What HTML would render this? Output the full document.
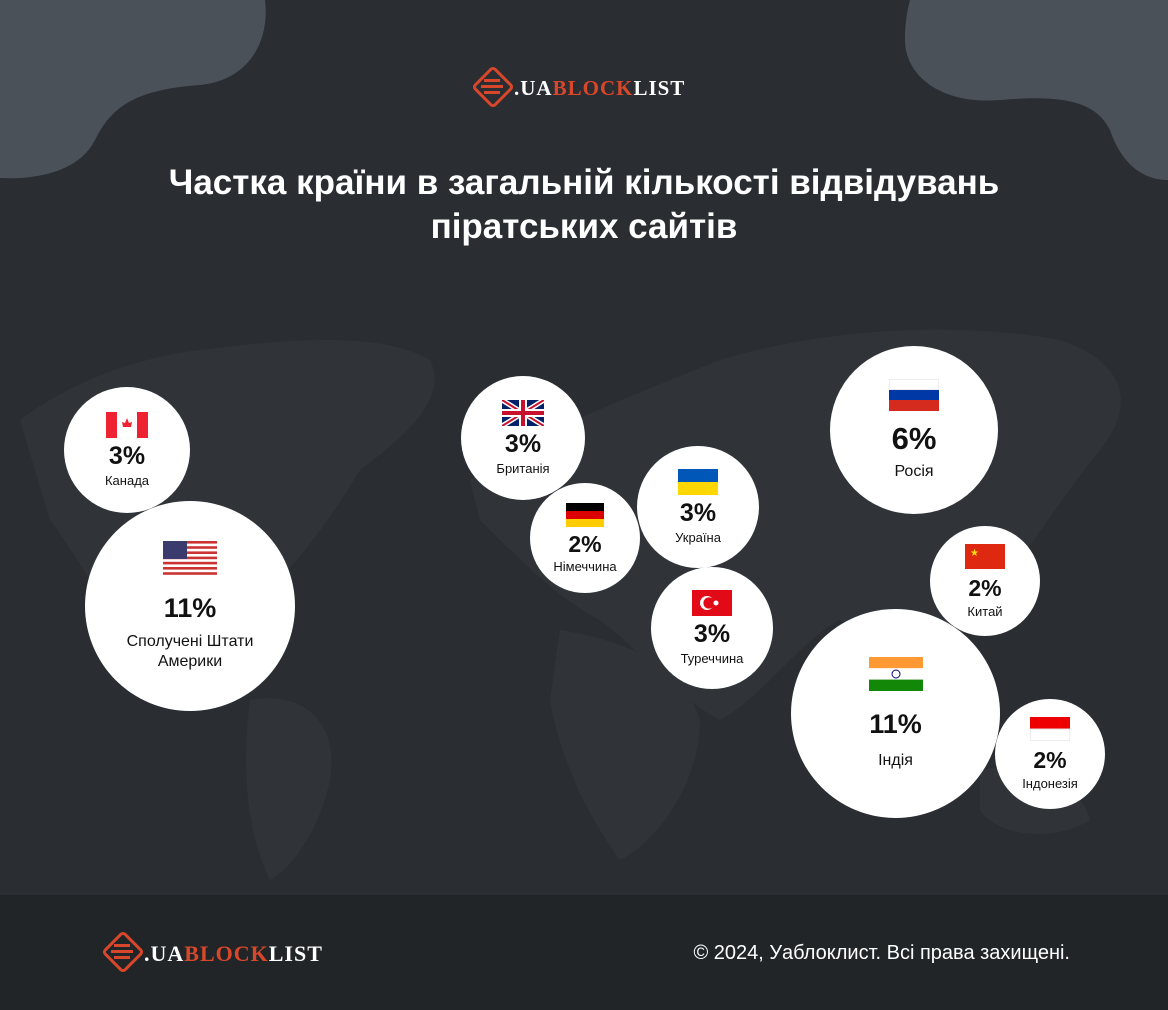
<!DOCTYPE html>
<html><head><meta charset="utf-8"><style>
body{margin:0;width:1168px;height:1010px;overflow:hidden;background:#2a2d32;font-family:"Liberation Sans",sans-serif;position:relative}
.c{position:absolute;border-radius:50%;background:#fff;text-align:center;color:#111;display:flex;flex-direction:column;align-items:center;justify-content:center}
.p{font-weight:bold}
.flag{display:block}
.logo{position:absolute;font-family:"Liberation Serif",serif;font-weight:bold;color:#fff;letter-spacing:1px}
.logo b{color:#d9472b}
</style></head><body>
<svg width="1168" height="1010" style="position:absolute;left:0;top:0">
<path d="M0 0H265C270 40 250 80 200 85C130 90 110 110 95 140C80 170 40 180 0 178Z" fill="#4b5159"/>
<path d="M910 0H1168V180C1140 180 1120 160 1110 130C1095 100 1060 95 1000 100C940 105 905 75 905 40C905 20 908 8 910 0Z" fill="#4b5159"/>
<g fill="#303439">
<path d="M20 420C60 390 120 360 200 350 280 340 380 330 430 360 450 400 400 440 360 470 330 520 300 560 260 600 220 650 160 660 130 640 100 600 80 560 50 520 30 480Z"/>
<path d="M250 700C300 690 340 720 330 780 320 830 290 870 270 880 250 840 240 780 250 700Z"/>
<path d="M470 480C520 440 620 400 720 360 820 330 950 320 1060 340 1120 360 1140 400 1100 450 1060 500 1020 560 980 620 940 660 880 640 840 620 800 640 760 700 720 720 680 700 640 650 600 620 560 600 520 560 480 520Z"/>
<path d="M560 630C620 640 680 660 700 720 700 780 660 840 620 860 590 820 560 760 550 700Z"/>
<path d="M980 770C1030 760 1080 780 1090 820 1060 840 1000 840 980 810Z"/>
</g>
<rect x="0" y="895" width="1168" height="115" fill="#222528"/>
</svg>
<div class="logo" style="left:470px;top:64px;font-size:21px">
<svg width="46" height="46" viewBox="0 0 46 46" style="position:absolute;left:0;top:0"><rect x="9" y="9" width="28" height="28" transform="rotate(45 23 23)" fill="none" stroke="#d9472b" stroke-width="3" rx="3"/><rect x="14" y="15" width="16" height="3" fill="#d9472b"/><rect x="11" y="21" width="22" height="3" fill="#d9472b"/><rect x="14" y="27" width="16" height="3" fill="#d9472b"/></svg>
<span style="position:absolute;left:44px;top:12px;white-space:nowrap">.UA<b>BLOCK</b>LIST</span></div>
<div class="logo" style="left:100px;top:929px;font-size:22px">
<svg width="46" height="46" viewBox="0 0 46 46" style="position:absolute;left:0;top:0"><rect x="9" y="9" width="28" height="28" transform="rotate(45 23 23)" fill="none" stroke="#d9472b" stroke-width="3" rx="3"/><rect x="14" y="15" width="16" height="3" fill="#d9472b"/><rect x="11" y="21" width="22" height="3" fill="#d9472b"/><rect x="14" y="27" width="16" height="3" fill="#d9472b"/></svg>
<span style="position:absolute;left:44px;top:12px;white-space:nowrap">.UA<b>BLOCK</b>LIST</span></div>
<div style="position:absolute;right:98px;top:942px;color:#fff;font-size:20px">© 2024, Уаблоклист. Всі права захищені.</div>
<div style="position:absolute;left:0;width:1168px;top:161px;text-align:center;color:#fff;font-weight:bold;font-size:35px;line-height:44px">Частка країни в загальній кількості відвідувань<br>піратських сайтів</div>

<div class="c" style="left:64px;top:387px;width:126px;height:126px"><svg class="flag" width="42" height="26"><rect width="42" height="26" fill="#e23"/><rect x="11" width="20" height="26" fill="#fff"/><path d="M21 6l2 5 3-1-1 5h-8l-1-5 3 1z" fill="#e23"/></svg><div class="p" style="font-size:25px;margin-top:4px">3%</div><div style="font-size:13px;margin-top:2px">Канада</div></div>

<div class="c" style="left:85px;top:501px;width:210px;height:210px"><svg class="flag" width="54" height="34"><rect width="54" height="34" fill="#fff"/><g fill="#c33"><rect y="0" width="54" height="2.6"/><rect y="5.2" width="54" height="2.6"/><rect y="10.4" width="54" height="2.6"/><rect y="15.6" width="54" height="2.6"/><rect y="20.8" width="54" height="2.6"/><rect y="26" width="54" height="2.6"/><rect y="31.2" width="54" height="2.6"/></g><rect width="24" height="18" fill="#3c3b6e"/></svg><div class="p" style="font-size:27px;margin-top:18px">11%</div><div style="font-size:16px;margin-top:8px;line-height:20px">Сполучені Штати<br>Америки</div></div>

<div class="c" style="left:461px;top:376px;width:124px;height:124px"><svg class="flag" width="42" height="26"><rect width="42" height="26" fill="#012169"/><path d="M0 0L42 26M42 0L0 26" stroke="#fff" stroke-width="5"/><path d="M0 0L42 26M42 0L0 26" stroke="#c8102e" stroke-width="2"/><path d="M21 0V26M0 13H42" stroke="#fff" stroke-width="8"/><path d="M21 0V26M0 13H42" stroke="#c8102e" stroke-width="4"/></svg><div class="p" style="font-size:25px;margin-top:4px">3%</div><div style="font-size:13px;margin-top:2px">Британія</div></div>

<div class="c" style="left:530px;top:483px;width:110px;height:110px"><svg class="flag" width="38" height="24"><rect width="38" height="8" fill="#000"/><rect y="8" width="38" height="8" fill="#d00"/><rect y="16" width="38" height="8" fill="#fc0"/></svg><div class="p" style="font-size:23px;margin-top:4px">2%</div><div style="font-size:13px;margin-top:1px">Німеччина</div></div>

<div class="c" style="left:637px;top:446px;width:122px;height:122px"><svg class="flag" width="40" height="26"><rect width="40" height="13" fill="#0057b7"/><rect y="13" width="40" height="13" fill="#ffd700"/></svg><div class="p" style="font-size:25px;margin-top:4px">3%</div><div style="font-size:13px;margin-top:2px">Україна</div></div>

<div class="c" style="left:651px;top:567px;width:122px;height:122px"><svg class="flag" width="40" height="26"><rect width="40" height="26" fill="#e30a17"/><circle cx="15" cy="13" r="7" fill="#fff"/><circle cx="17" cy="13" r="5.6" fill="#e30a17"/><circle cx="24" cy="13" r="2.5" fill="#fff"/></svg><div class="p" style="font-size:25px;margin-top:4px">3%</div><div style="font-size:13px;margin-top:2px">Туреччина</div></div>

<div class="c" style="left:830px;top:346px;width:168px;height:168px"><svg class="flag" width="50" height="32"><rect width="50" height="11" fill="#fff" stroke="#ddd"/><rect y="11" width="50" height="11" fill="#0039a6"/><rect y="21" width="50" height="11" fill="#d52b1e"/></svg><div class="p" style="font-size:31px;margin-top:10px">6%</div><div style="font-size:16px;margin-top:6px">Росія</div></div>

<div class="c" style="left:930px;top:526px;width:110px;height:110px"><svg class="flag" width="40" height="25"><rect width="40" height="25" fill="#de2910"/><text x="5" y="12" fill="#ffde00" font-size="10">★</text></svg><div class="p" style="font-size:23px;margin-top:6px">2%</div><div style="font-size:13px;margin-top:2px">Китай</div></div>

<div class="c" style="left:791px;top:609px;width:209px;height:209px"><svg class="flag" width="54" height="34"><rect width="54" height="11.3" fill="#f93"/><rect y="11.3" width="54" height="11.3" fill="#fff"/><rect y="22.6" width="54" height="11.4" fill="#138808"/><circle cx="27" cy="17" r="4" fill="none" stroke="#008" stroke-width="1"/></svg><div class="p" style="font-size:27px;margin-top:18px">11%</div><div style="font-size:16px;margin-top:12px">Індія</div></div>

<div class="c" style="left:995px;top:699px;width:110px;height:110px"><svg class="flag" width="40" height="24"><rect width="40" height="12" fill="#e00"/><rect y="12" width="40" height="12" fill="#fff" stroke="#ddd"/></svg><div class="p" style="font-size:23px;margin-top:6px">2%</div><div style="font-size:13px;margin-top:2px">Індонезія</div></div>
</body></html>
